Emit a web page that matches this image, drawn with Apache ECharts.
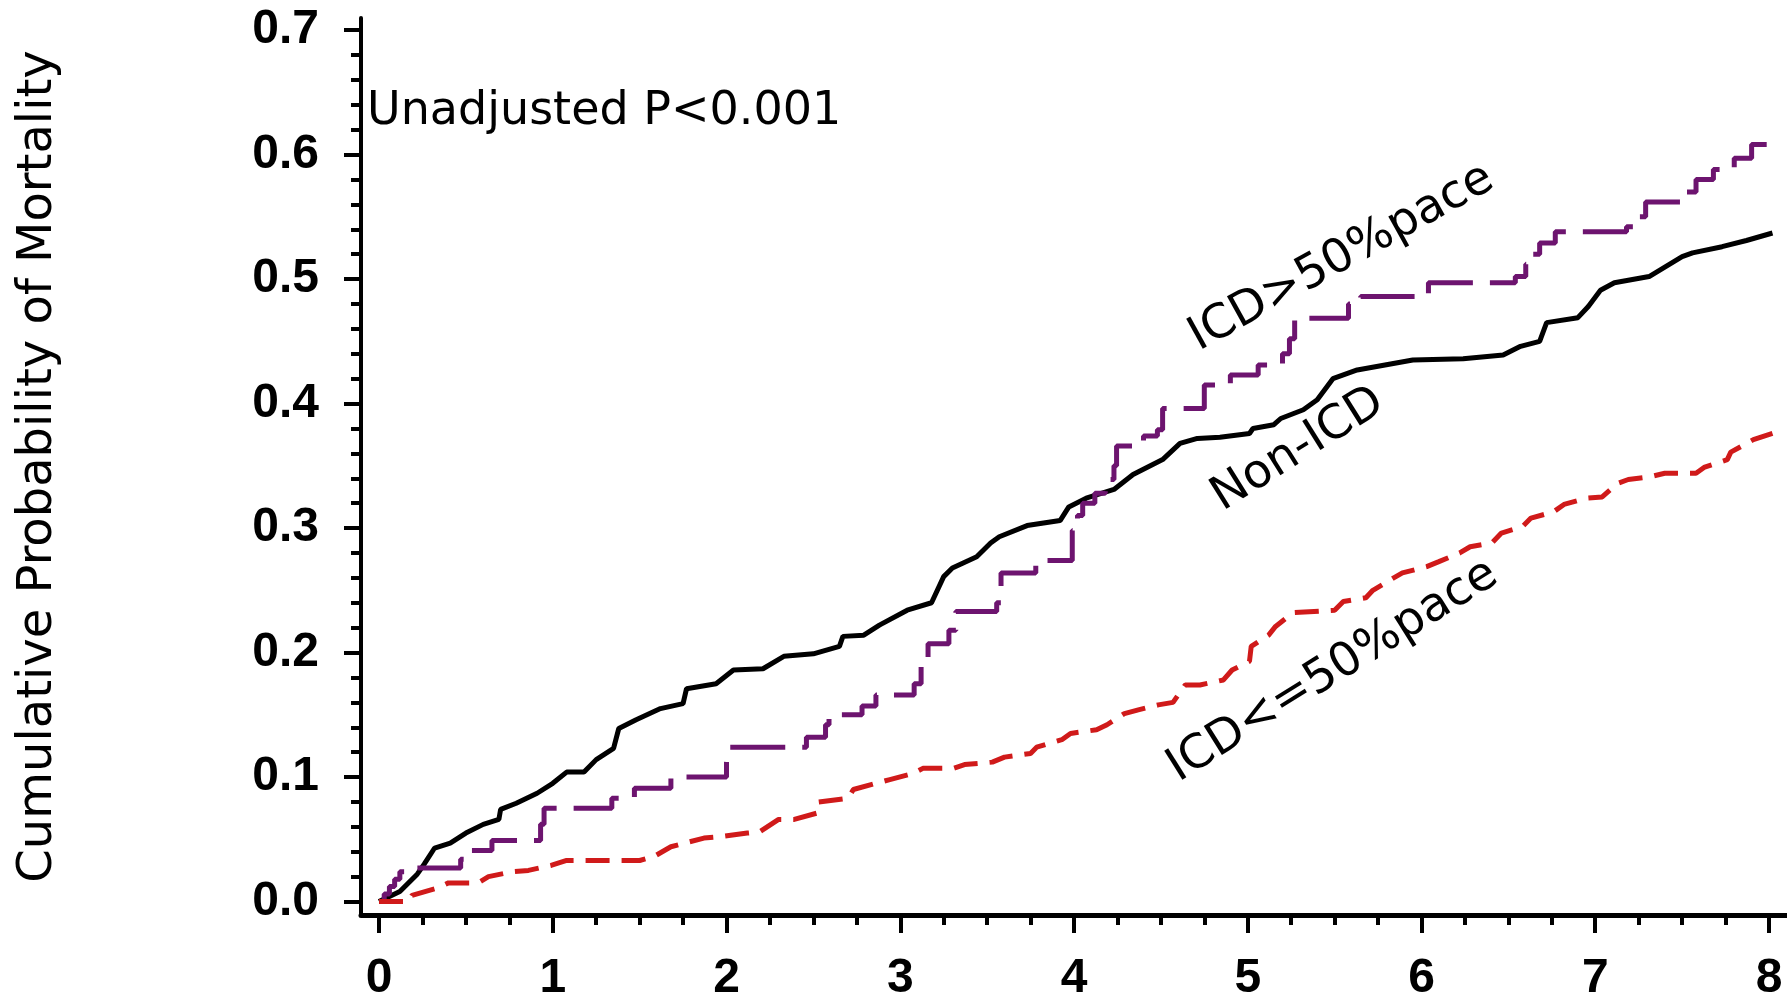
<!DOCTYPE html>
<html><head><meta charset="utf-8">
<script src="https://cdn.jsdelivr.net/npm/echarts@6/dist/echarts.min.js"></script>
<style>html,body{margin:0;padding:0;background:#fff}#c{width:1787px;height:1004px}</style>
</head><body><div id="c"></div>
<script>
// ---- data (years, cumulative probability) ----
const xTickValues = [0,1,2,3,4,5,6,7,8];
const yTickValues = [0,0.1,0.2,0.3,0.4,0.5,0.6,0.7];

const nonIcd = [[0,0],[0.12,0.008],[0.22,0.022],[0.26,0.030],[0.32,0.043],[0.41,0.047],[0.50,0.055],[0.60,0.062],[0.69,0.066],[0.70,0.074],[0.79,0.079],[0.91,0.087],[1.00,0.095],[1.08,0.104],[1.18,0.104],[1.25,0.114],[1.35,0.123],[1.38,0.139],[1.48,0.146],[1.62,0.155],[1.75,0.159],[1.77,0.171],[1.94,0.175],[2.04,0.186],[2.21,0.187],[2.33,0.197],[2.50,0.199],[2.65,0.205],[2.67,0.213],[2.79,0.214],[2.88,0.222],[3.04,0.234],[3.18,0.240],[3.25,0.261],[3.30,0.268],[3.44,0.277],[3.52,0.288],[3.57,0.293],[3.73,0.302],[3.92,0.306],[3.97,0.317],[4.07,0.324],[4.23,0.331],[4.34,0.343],[4.51,0.355],[4.61,0.368],[4.71,0.372],[4.84,0.373],[5.01,0.376],[5.03,0.380],[5.15,0.383],[5.19,0.388],[5.32,0.395],[5.40,0.403],[5.49,0.420],[5.63,0.427],[5.95,0.435],[6.24,0.436],[6.47,0.439],[6.57,0.446],[6.68,0.450],[6.72,0.465],[6.90,0.469],[6.96,0.478],[7.03,0.491],[7.11,0.497],[7.31,0.502],[7.50,0.518],[7.56,0.521],[7.73,0.526],[7.87,0.531],[8.02,0.537]];

const icdHighPace = [[0,0],[0.03,0.006],[0.06,0.012],[0.09,0.018],[0.12,0.024],[0.15,0.027],[0.47,0.034],[0.50,0.041],[0.65,0.049],[0.93,0.062],[0.95,0.075],[1.34,0.083],[1.47,0.091],[1.68,0.100],[2.00,0.112],[2.01,0.124],[2.46,0.132],[2.57,0.142],[2.59,0.150],[2.78,0.157],[2.86,0.166],[3.08,0.175],[3.12,0.190],[3.16,0.207],[3.28,0.218],[3.32,0.233],[3.555,0.240],[3.58,0.264],[3.78,0.274],[3.99,0.298],[4.02,0.310],[4.05,0.320],[4.12,0.328],[4.18,0.334],[4.21,0.339],[4.23,0.350],[4.245,0.366],[4.40,0.374],[4.48,0.379],[4.51,0.396],[4.75,0.415],[4.90,0.423],[5.06,0.431],[5.20,0.440],[5.24,0.452],[5.27,0.4685],[5.58,0.480],[5.65,0.486],[6.04,0.497],[6.54,0.502],[6.60,0.512],[6.64,0.520],[6.68,0.529],[6.77,0.538],[7.18,0.542],[7.24,0.550],[7.29,0.562],[7.52,0.570],[7.58,0.580],[7.68,0.588],[7.80,0.597],[7.90,0.608],[8.02,0.608]];

const icdLowPace = [[0,0],[0.17,0.0],[0.19,0.005],[0.34,0.011],[0.40,0.015],[0.57,0.015],[0.63,0.020],[0.77,0.024],[0.86,0.025],[0.99,0.029],[1.08,0.033],[1.50,0.033],[1.58,0.036],[1.68,0.044],[1.76,0.047],[1.87,0.051],[1.96,0.052],[2.12,0.055],[2.19,0.056],[2.30,0.066],[2.39,0.066],[2.52,0.071],[2.53,0.080],[2.70,0.083],[2.73,0.090],[2.86,0.095],[2.94,0.098],[3.075,0.103],[3.13,0.107],[3.305,0.107],[3.37,0.110],[3.53,0.112],[3.60,0.116],[3.75,0.119],[3.785,0.124],[3.93,0.130],[3.98,0.135],[4.13,0.138],[4.19,0.142],[4.29,0.151],[4.37,0.154],[4.485,0.158],[4.57,0.160],[4.64,0.174],[4.725,0.174],[4.86,0.178],[4.91,0.186],[5.01,0.193],[5.02,0.205],[5.12,0.214],[5.16,0.221],[5.26,0.232],[5.50,0.234],[5.55,0.241],[5.68,0.244],[5.72,0.250],[5.84,0.260],[5.89,0.264],[6.03,0.269],[6.10,0.273],[6.22,0.280],[6.28,0.285],[6.405,0.288],[6.46,0.296],[6.58,0.301],[6.63,0.308],[6.76,0.313],[6.82,0.319],[6.95,0.324],[7.04,0.325],[7.13,0.336],[7.19,0.339],[7.31,0.341],[7.40,0.344],[7.58,0.344],[7.63,0.349],[7.76,0.355],[7.78,0.361],[7.91,0.371],[8.02,0.376]];

const yTitle = 'Cumulative Probability of Mortality';
const annotationTexts = ['Unadjusted P<0.001','ICD>50%pace','Non-ICD','ICD<=50%pace'];
// anchor positions in data coordinates
const annotationAnchors = [[-0.069,0.634],[5.54,0.517],[5.29,0.363],[5.49,0.185]];
const annotationAngles = [0,29,32,32];

// ---- chart ----
const xMinor = []; for (let i = 0; i <= 32; i++) if (i % 4) xMinor.push(i / 4);
const yMinor = []; for (let i = 0; i <= 35; i++) if (i % 5) yMinor.push(+(i * 0.02).toFixed(2));
const XMIN = -0.1036, XMAX = 8.1036, YMIN = -0.0108, YMAX = 0.7097;

const chart = echarts.init(document.getElementById('c'), null, {renderer: 'canvas'});
const labelFont = {fontFamily: 'Liberation Sans', fontWeight: 'bold', fontSize: 48, color: '#000'};
chart.setOption({
  animation: false,
  backgroundColor: '#fff',
  grid: {left: 361, right: 0, top: 18, bottom: 89, containLabel: false},
  xAxis: [{
    type: 'value', min: XMIN, max: XMAX, position: 'bottom',
    axisLine: {onZero: false, lineStyle: {color: '#000', width: 5}},
    axisTick: {customValues: xTickValues, length: 18, lineStyle: {color: '#000', width: 4}},
    axisLabel: Object.assign({customValues: xTickValues, margin: 40, formatter: v => String(Math.round(v))}, labelFont),
    splitLine: {show: false}
  }, {
    type: 'value', min: XMIN, max: XMAX, position: 'bottom', offset: 0,
    axisLine: {show: false, onZero: false},
    axisTick: {customValues: xMinor, length: 10, lineStyle: {color: '#000', width: 4}},
    axisLabel: {show: false}, splitLine: {show: false}
  }],
  yAxis: [{
    type: 'value', min: YMIN, max: YMAX, position: 'left',
    name: yTitle, nameLocation: 'middle', nameRotate: 90, nameGap: 298,
    nameTextStyle: {fontFamily: 'DejaVu Sans', fontSize: 48, color: '#000'},
    axisLine: {onZero: false, lineStyle: {color: '#000', width: 4}},
    axisTick: {customValues: yTickValues, length: 17, lineStyle: {color: '#000', width: 4}},
    axisLabel: Object.assign({customValues: yTickValues, margin: 42, formatter: v => v.toFixed(1)}, labelFont),
    splitLine: {show: false}
  }, {
    type: 'value', min: YMIN, max: YMAX, position: 'left', offset: 0,
    axisLine: {show: false, onZero: false},
    axisTick: {customValues: yMinor, length: 10, lineStyle: {color: '#000', width: 4}},
    axisLabel: {show: false}, splitLine: {show: false}
  }],
  series: [{
    name: 'Non-ICD', type: 'line', data: nonIcd, showSymbol: false, z: 3,
    lineStyle: {color: '#000', width: 5}
  }, {
    name: 'ICD>50%pace', type: 'line', step: 'end', data: icdHighPace, showSymbol: false, z: 4,
    lineStyle: {color: '#6d146f', width: 5, type: [55, 17]}
  }, {
    name: 'ICD<=50%pace', type: 'line', data: icdLowPace, showSymbol: false, z: 4,
    lineStyle: {color: '#d01a1a', width: 5, type: [24, 12]}
  }]
});

const graphics = annotationTexts.map((t, i) => {
  const p = chart.convertToPixel({xAxisIndex: 0, yAxisIndex: 0}, annotationAnchors[i]);
  return {
    type: 'text', x: p[0], y: p[1], rotation: annotationAngles[i] * Math.PI / 180, z: 10,
    style: {text: t, fill: '#000', fontFamily: 'DejaVu Sans', fontSize: i === 0 ? 46 : 47,
            align: i === 0 ? 'left' : 'center', verticalAlign: 'middle'}
  };
});
chart.setOption({graphic: graphics});
</script></body></html>
